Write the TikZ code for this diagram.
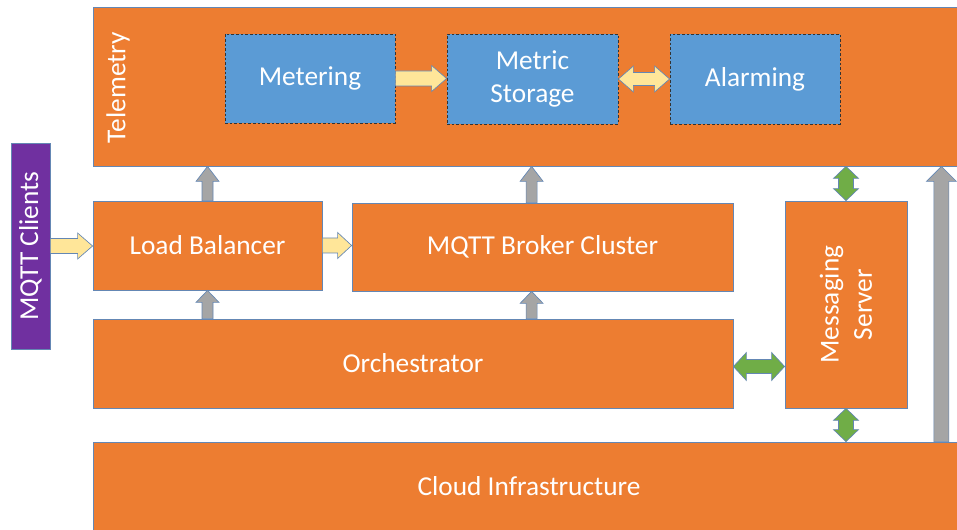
\documentclass[tikz,border=0pt]{standalone}
\usepackage{fontspec}
\setmainfont{Carlito}
\usetikzlibrary{calc,fit}
\definecolor{orng}{HTML}{ED7D31}
\definecolor{blu}{HTML}{5B9BD5}
\definecolor{purp}{HTML}{7030A0}
\definecolor{yel}{HTML}{FFE699}
\definecolor{gry}{HTML}{A5A5A5}
\definecolor{grn}{HTML}{70AD47}
\definecolor{edge}{RGB}{100,135,180}
\newcommand\lbl{\fontsize{20.5}{25}\selectfont}
\def\pxu{0.75pt}
% horizontal single arrow (head at #3)
\newcommand\harr[6]{\draw[#1] let \p1=#2,\p2=#3 in
 (\x1,{\y1+#4*\pxu}) -- ({\x2-#6*\pxu},{\y1+#4*\pxu}) -- ({\x2-#6*\pxu},{\y1+#5*\pxu}) -- (\x2,\y1)
 -- ({\x2-#6*\pxu},{\y1-#5*\pxu}) -- ({\x2-#6*\pxu},{\y1-#4*\pxu}) -- (\x1,{\y1-#4*\pxu}) -- cycle;}
% horizontal double arrow
\newcommand\dharr[6]{\draw[#1] let \p1=#2,\p2=#3 in
 (\x1,\y1) -- ({\x1+#6*\pxu},{\y1+#5*\pxu}) -- ({\x1+#6*\pxu},{\y1+#4*\pxu}) -- ({\x2-#6*\pxu},{\y1+#4*\pxu})
 -- ({\x2-#6*\pxu},{\y1+#5*\pxu}) -- (\x2,\y1) -- ({\x2-#6*\pxu},{\y1-#5*\pxu}) -- ({\x2-#6*\pxu},{\y1-#4*\pxu})
 -- ({\x1+#6*\pxu},{\y1-#4*\pxu}) -- ({\x1+#6*\pxu},{\y1-#5*\pxu}) -- cycle;}
% vertical single arrow, upward (head at #3)
\newcommand\varr[6]{\draw[#1] let \p1=#2,\p2=#3 in
 ({\x1+#4*\pxu},\y1) -- ({\x1+#4*\pxu},{\y2-#6*\pxu}) -- ({\x1+#5*\pxu},{\y2-#6*\pxu}) -- (\x1,\y2)
 -- ({\x1-#5*\pxu},{\y2-#6*\pxu}) -- ({\x1-#4*\pxu},{\y2-#6*\pxu}) -- ({\x1-#4*\pxu},\y1) -- cycle;}
% vertical double arrow (#2 lower, #3 upper)
\newcommand\dvarr[6]{\draw[#1] let \p1=#2,\p2=#3 in
 (\x1,\y1) -- ({\x1+#5*\pxu},{\y1+#6*\pxu}) -- ({\x1+#4*\pxu},{\y1+#6*\pxu}) -- ({\x1+#4*\pxu},{\y2-#6*\pxu})
 -- ({\x1+#5*\pxu},{\y2-#6*\pxu}) -- (\x1,\y2) -- ({\x1-#5*\pxu},{\y2-#6*\pxu}) -- ({\x1-#4*\pxu},{\y2-#6*\pxu})
 -- ({\x1-#4*\pxu},{\y1+#6*\pxu}) -- ({\x1-#5*\pxu},{\y1+#6*\pxu}) -- cycle;}
\tikzset{
 box/.style={draw=edge, line width=0.6pt, fill=orng, inner sep=0pt},
 bbox/.style={draw=black!80, line width=0.6pt, dash pattern=on 2pt off 1.5pt, fill=blu, inner sep=0pt},
 pbox/.style={draw=edge, line width=0.6pt, fill=purp, inner sep=0pt},
 txt/.style={text=white, font=\lbl, align=center, inner sep=0pt},
 yarr/.style={draw=edge, line width=0.5pt, fill=yel, line join=miter},
 grarr/.style={draw=edge, line width=0.5pt, fill=gry, line join=miter},
 garr/.style={draw=edge, line width=0.5pt, fill=grn, line join=miter},
}
\begin{document}
\begin{tikzpicture}[x=0.75pt, y=-0.75pt]
\useasboundingbox (0,0) rectangle (957,530);
\fill[white] (0,0) rectangle (957,530);
% boxes
\node[box, fit={(93,7) (965,166)}] (tel) {};
\node[txt, rotate=90, anchor=east] (teltxt) at (118,32) {Telemetry};
\node[bbox, fit={(225,34) (395,123)}] (met) {};
\node[txt] (mettxt) at (met.center) {Metering};
\node[bbox, fit={(447,34) (618,124)}] (stor) {};
\node[txt] (stortxt) at (stor.center) {Metric\\Storage};
\node[bbox, fit={(670,34) (840,124)}] (alm) {};
\node[txt] (almtxt) at (alm.center) {Alarming};
\node[pbox, fit={(11,143) (50,349)}] (cl) {};
\node[txt, rotate=90] (cltxt) at (cl.center) {MQTT Clients};
\node[box, fit={(93,201) (322,290)}] (lb) {};
\node[txt] (lbtxt) at (lb.center) {Load Balancer};
\node[box, fit={(352,203) (733,291)}] (br) {};
\node[txt] (brtxt) at (br.center) {MQTT Broker Cluster};
\node[box, fit={(93,319) (733,408)}] (orch) {};
\node[txt] (orchtxt) at (orch.center) {Orchestrator};
\node[box, fit={(785,201) (907,408)}] (ms) {};
\node[txt, rotate=90] (mstxt) at (ms.center) {Messaging\\Server};
\node[box, fit={(93,442) (965,531)}] (cloud) {};
\node[txt] (cloudtxt) at (cloud.center) {Cloud Infrastructure};
% helper coordinates
\coordinate (bx) at ($(br.north west)+(180,0)$);
\coordinate (tx) at ($(ms.east |- cloud.north)+(34,0)$);
% yellow arrows
\harr{yarr}{(cl.east)}{(lb.west)}{7.5}{13}{15}
\harr{yarr}{(lb.east)}{(br.west)}{7.5}{13}{14}
\harr{yarr}{(met.east)}{(stor.west)}{7.5}{13}{15}
\dharr{yarr}{(stor.east)}{(alm.west)}{6.5}{13}{15}
% gray arrows
\varr{grarr}{(lb.north)}{(lb.north |- tel.south)}{5.5}{11.5}{15}
\varr{grarr}{(lb.south |- orch.north)}{(lb.south)}{5.5}{11.5}{12}
\varr{grarr}{(bx)}{(bx |- tel.south)}{5.5}{11.5}{15}
\varr{grarr}{(bx |- orch.north)}{(bx |- br.south)}{5.5}{11.5}{12}
\varr{grarr}{(tx)}{(tx |- tel.south)}{7.5}{15}{15}
% green arrows
\dharr{garr}{($(orch.east)+(0,3)$)}{($(ms.west |- orch.east)+(0,3)$)}{7}{14}{13}
\dvarr{garr}{(ms.north)}{(ms.north |- tel.south)}{7.5}{12.5}{12}
\dvarr{garr}{(ms.south |- cloud.north)}{(ms.south)}{7.5}{12.5}{12}
\end{tikzpicture}
\end{document}
